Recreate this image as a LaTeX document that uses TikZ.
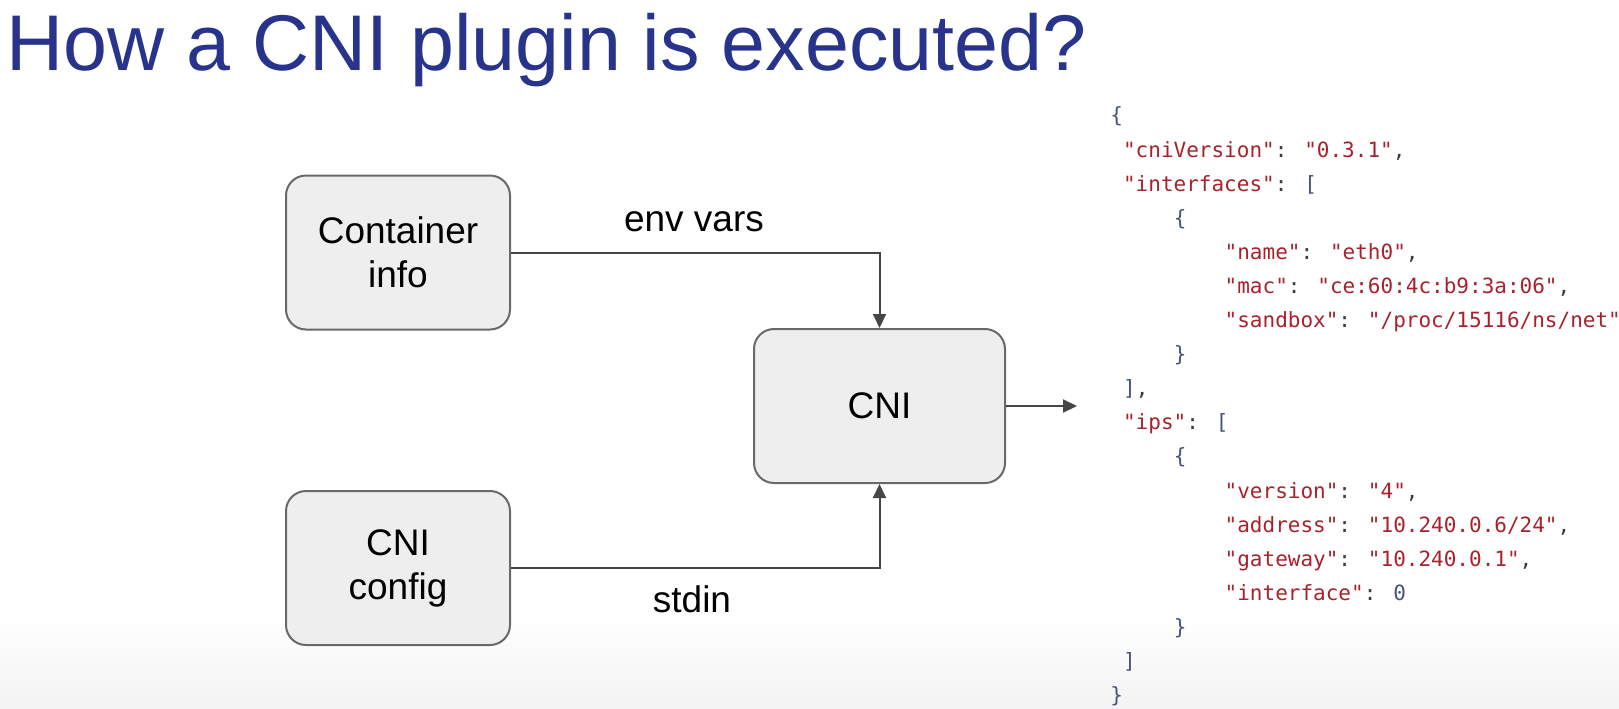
\documentclass[tikz,border=0pt]{standalone}
\usepackage{fontspec}
\setmainfont{Liberation Sans}
\newfontfamily\jsonfont[Ligatures=TeXOff]{DejaVu Sans Mono}
\usetikzlibrary{arrows.meta}
\definecolor{titleblue}{RGB}{40,52,140}
\definecolor{boxfill}{RGB}{238,238,238}
\definecolor{boxline}{RGB}{105,105,105}
\definecolor{arrowgray}{RGB}{70,70,70}
\definecolor{jsonred}{RGB}{168,34,44}
\definecolor{jsonblue}{RGB}{70,82,128}
\definecolor{jsonpunct}{RGB}{60,60,60}
\definecolor{bottomgray}{RGB}{243,243,243}
\newcommand\jstr[1]{\textcolor{jsonred}{#1}}
\newcommand\jpun[1]{\textcolor{jsonpunct}{#1}}
\newcommand\jbr[1]{\textcolor{jsonblue}{#1}}
\begin{document}
\begin{tikzpicture}[x=0.5pt,y=-0.5pt,
  box/.style={draw=boxline, line width=1pt, fill=boxfill, rounded corners=10pt,
    minimum width=112pt, minimum height=77pt, inner sep=0pt, align=center,
    font=\fontsize{18.5}{22}\selectfont},
  conn/.style={draw=arrowgray, line width=1pt, -{Triangle[length=7pt,width=6.5pt]}},
  lbl/.style={font=\fontsize{18.5}{22}\selectfont, inner sep=0pt},
  json/.style={anchor=base west, inner sep=0pt, font=\jsonfont\fontsize{10.5}{12}\selectfont}
]
\useasboundingbox (0,0) rectangle (1619,708);
\shade[top color=white, bottom color=bottomgray] (0,615) rectangle (1619,708);

\node[anchor=base west, text=titleblue, font=\fontsize{39.5}{44}\selectfont, inner sep=0pt]
  (title) at (6,70) {How a CNI plugin is executed?};

\node[box] (ci) at (398,252.5) {Container\\info};
\node[box] (cc) at (398,568) {CNI\\config};
\node[box, minimum width=125.5pt] (cni) at (879.5,406) {CNI};
\coordinate (out) at (1077,406);

\draw[conn] (ci.east) -| (cni.north);
\draw[conn] (cc.east) -| (cni.south);
\draw[conn] (cni.east) -- (out);

\node[lbl] (envlbl) at (694,222) {env vars};
\node[lbl] (stdinlbl) at (692,599) {stdin};

% JSON output
\node[json] (j1)  at (1110.0,122.9) {\jbr{\{}};
\node[json] (j2)  at (1122.7,157.0) {\jstr{"cniVersion"}\jpun{: }\jstr{"0.3.1"}\jpun{,}};
\node[json] (j3)  at (1122.7,191.1) {\jstr{"interfaces"}\jpun{: }\jbr{[}};
\node[json] (j4)  at (1173.5,225.2) {\jbr{\{}};
\node[json] (j5)  at (1224.3,259.3) {\jstr{"name"}\jpun{: }\jstr{"eth0"}\jpun{,}};
\node[json] (j6)  at (1224.3,293.4) {\jstr{"mac"}\jpun{: }\jstr{"ce:60:4c:b9:3a:06"}\jpun{,}};
\node[json] (j7)  at (1224.3,327.5) {\jstr{"sandbox"}\jpun{: }\jstr{"/proc/15116/ns/net"}};
\node[json] (j8)  at (1173.5,361.6) {\jbr{\}}};
\node[json] (j9)  at (1122.7,395.7) {\jbr{]}\jpun{,}};
\node[json] (j10) at (1122.7,429.8) {\jstr{"ips"}\jpun{: }\jbr{[}};
\node[json] (j11) at (1173.5,463.9) {\jbr{\{}};
\node[json] (j12) at (1224.3,498.0) {\jstr{"version"}\jpun{: }\jstr{"4"}\jpun{,}};
\node[json] (j13) at (1224.3,532.1) {\jstr{"address"}\jpun{: }\jstr{"10.240.0.6/24"}\jpun{,}};
\node[json] (j14) at (1224.3,566.2) {\jstr{"gateway"}\jpun{: }\jstr{"10.240.0.1"}\jpun{,}};
\node[json] (j15) at (1224.3,600.3) {\jstr{"interface"}\jpun{: }\jbr{0}};
\node[json] (j16) at (1173.5,634.4) {\jbr{\}}};
\node[json] (j17) at (1122.7,668.5) {\jbr{]}};
\node[json] (j18) at (1110.0,702.6) {\jbr{\}}};
\end{tikzpicture}
\end{document}
